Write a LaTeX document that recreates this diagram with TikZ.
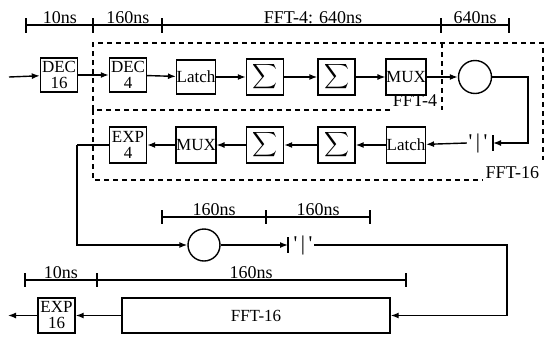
\documentclass[tikz,border=0pt]{standalone}
\usepackage{amsmath}
\usepackage{fontspec}
\setmainfont{Liberation Serif}
\usetikzlibrary{arrows.meta}
\begin{document}
\begin{tikzpicture}[x=1pt,y=-1pt,line width=1.4pt,
  blk/.style={draw,minimum width=37pt,minimum height=34pt,inner sep=0pt,align=center,font=\fontsize{17}{16}\selectfont},
  sig/.style={draw,minimum width=37pt,minimum height=36pt,inner sep=0pt,font=\fontsize{19}{19}\selectfont},
  circ/.style={draw,circle,minimum size=33pt,inner sep=0pt},
  arr/.style={-{Latex[length=8pt,width=6pt]}},
  lbl/.style={anchor=south,inner sep=1pt,font=\fontsize{18}{18}\selectfont},
  txt/.style={inner sep=1pt,font=\fontsize{18}{18}\selectfont},
  qt/.style={inner sep=1pt,font=\fontsize{21}{21}\selectfont},
  dsh/.style={dash pattern=on 5pt off 4pt,line width=1.5pt},
  tl/.style={line width=1.3pt}]
\useasboundingbox (0,0) rectangle (546,338);
% timing lines
\draw[tl] (26,25) -- (509,25);
\foreach \x in {26,93,162,441,509} \draw[tl] (\x,18) -- (\x,33);
\node[lbl] at (60,25) {10ns};
\node[lbl] at (128,25) {160ns};
\node[lbl] at (313,25) {FFT-4: 640ns};
\node[lbl] at (475,25) {640ns};
\draw[tl] (162,217) -- (370,217);
\foreach \x in {162,266,370} \draw[tl] (\x,210) -- (\x,224);
\node[lbl] at (214,217) {160ns};
\node[lbl] at (318,217) {160ns};
\draw[tl] (25,280) -- (406,280);
\foreach \x in {25,97,406} \draw[tl] (\x,273) -- (\x,287);
\node[lbl] at (61,280) {10ns};
\node[lbl] at (251,280) {160ns};
% dashed boxes
\draw[dsh] (390,110) -- (93,110) -- (93,43) -- (543,43) -- (543,160);
\draw[dsh] (442,43) -- (442,110);
\draw[dsh] (93,110) -- (93,180) -- (483,180);
\node[txt] (l4) at (415,101) {FFT-4};
\node[txt,anchor=base west] (l16) at (484,178) {FFT-16};
% top row
\node[blk] (dec16) at (59,75) {DEC\\16};
\node[blk] (dec4) at (128,75) {DEC\\4};
\node[blk] (latch1) at (196,77) {Latch};
\node[sig] (s1) at (265,77) {$\displaystyle\sum$};
\node[sig] (s2) at (336.5,77) {$\displaystyle\sum$};
\node[blk,minimum height=36pt] (mux1) at (406,77) {MUX};
\node[circ] (c1) at (475,77) {};
\coordinate (in) at (9,77);
\draw[arr] (in) -- (dec16);
\draw[arr] (dec16) -- (dec4);
\draw[arr] (dec4) -- (latch1);
\draw[arr] (latch1) -- (s1);
\draw[arr] (s1) -- (s2);
\draw[arr] (s2) -- (mux1);
\draw[arr] (mux1) -- (c1);
% bottom row of FFT-16
\node[blk,minimum height=36pt] (exp4) at (128,145) {EXP\\4};
\node[blk,minimum height=36pt] (mux2) at (196,145) {MUX};
\node[sig] (s3) at (265,145) {$\displaystyle\sum$};
\node[sig] (s4) at (336.5,145) {$\displaystyle\sum$};
\node[blk,minimum height=36pt] (latch2) at (406,145) {Latch};
\coordinate (r1) at (528,77);
\coordinate (b1) at (493,143);
\draw (493,135) -- (493,151);
\node[qt] (q1) at (478,143) {\textquotesingle\,|\,\textquotesingle};
\draw[arr] (c1) -- (r1) |- (b1);
\draw[arr] (q1.west) -- (latch2);
\draw[arr] (latch2) -- (s4);
\draw[arr] (s4) -- (s3);
\draw[arr] (s3) -- (mux2);
\draw[arr] (mux2) -- (exp4);
% loop
\node[circ,minimum size=32pt] (c2) at (204,245) {};
\coordinate (l1) at (77,145);
\draw (exp4.west) -- (l1);
\draw[arr] (l1) |- (c2);
\coordinate (b2) at (288,245);
\draw (288,237) -- (288,253);
\draw[arr] (c2) -- (b2);
\node[qt] (q2) at (303,245) {\textquotesingle\,|\,\textquotesingle};
% last row
\node[blk,minimum width=268pt,minimum height=35pt] (fft16) at (256,315.5) {FFT-16};
\node[blk,minimum height=35pt] (exp16) at (56.5,315.5) {EXP\\16};
\coordinate (r2) at (507,245);
\draw[arr] (q2.east) -- (r2) |- (fft16);
\draw[arr] (fft16) -- (exp16);
\coordinate (out) at (8,315.5);
\draw[arr] (exp16) -- (out);
\end{tikzpicture}
\end{document}
